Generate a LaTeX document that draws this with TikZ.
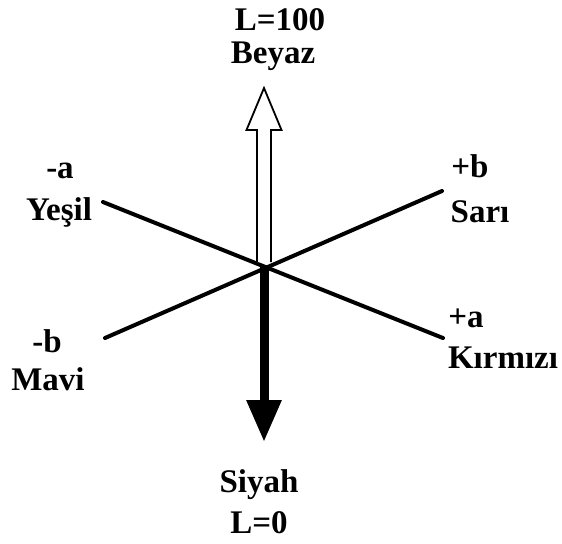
\documentclass[tikz,border=0pt]{standalone}
\usepackage{fontspec}
\setmainfont{Liberation Serif}
\usetikzlibrary{arrows.meta,calc}
\tikzset{
  axis-line/.style={line width=2pt,draw=black,line cap=round},
  axis-label/.style={font=\fontsize{16.5}{20}\selectfont\bfseries,inner sep=0pt,anchor=base},
  arrow-white/.style={draw=black,line width=0.9pt,fill=white,line join=miter},
  arrow-black/.style={-{Triangle[width=16.5pt,length=21pt]},line width=4.5pt,draw=black},
}
\begin{document}
\begin{tikzpicture}[x=0.5pt,y=-0.5pt]
  \useasboundingbox (0,0) rectangle (562,543);
  \coordinate (o) at (264,266);
  \coordinate (yesil) at (103,202);
  \coordinate (kirmizi) at (443,338);
  \coordinate (mavi) at (105,338);
  \coordinate (sari) at (442,191);
  \coordinate (beyaz) at (264,88);
  \coordinate (siyah) at (264,442);
  % a ve b eksenleri
  \draw[axis-line] (yesil) -- (kirmizi);
  \draw[axis-line] (mavi) -- (sari);
  % L ekseni
  \draw[arrow-white] ($(o)+(-7,-4)$) -- ($(beyaz)+(-7,42)$) -- ($(beyaz)+(-17.5,42)$)
    -- (beyaz) -- ($(beyaz)+(17.5,42)$) -- ($(beyaz)+(7,42)$) -- ($(o)+(7,-4)$);
  \draw[arrow-black] (o) -- (siyah);
  % etiketler
  \node[axis-label] (l100) at (280,30) {L=100};
  \node[axis-label] (beyaz-txt) at (273,63) {Beyaz};
  \node[axis-label] (mina) at (60,178) {-a};
  \node[axis-label] (yesil-txt) at (59,220) {Yeşil};
  \node[axis-label] (minb) at (47,352) {-b};
  \node[axis-label] (mavi-txt) at (48,390) {Mavi};
  \node[axis-label] (plusb) at (470,177) {+b};
  \node[axis-label] (sari-txt) at (480,222) {Sarı};
  \node[axis-label] (plusa) at (466,327) {+a};
  \node[axis-label] (kirmizi-txt) at (503,368) {Kırmızı};
  \node[axis-label] (siyah-txt) at (259,492) {Siyah};
  \node[axis-label] (l0) at (259,533) {L=0};
\end{tikzpicture}
\end{document}
